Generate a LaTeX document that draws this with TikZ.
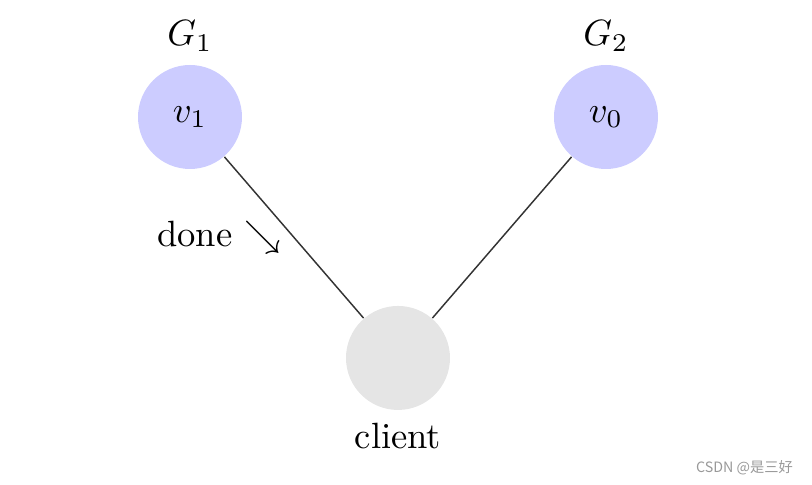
\documentclass[tikz,border=0pt]{standalone}
\usepackage{fontspec}
\newfontfamily\cjk{Noto Sans CJK SC}
\tikzset{
  vertex/.style={circle, fill=blue!20, minimum size=1cm, inner sep=0pt},
  host/.style={circle, fill=black!10, minimum size=1cm, inner sep=0pt},
  link/.style={draw=black!80, line width=0.4pt}
}

\begin{document}
\begin{tikzpicture}
	%%%%% START %%%%%
	\useasboundingbox (0, 0) rectangle (7.808, 4.663);
	
	\node[vertex, label=above:{$G_1$}] (g1) at (1.827, 3.538) {$v_1$};
	\node[vertex, label=above:{$G_2$}] (g2) at (5.827, 3.538) {$v_0$};
	\node[host, label=below:{client}] (client) at (3.827, 1.221) {};
	
	\draw[link] (g1) -- node[left] {done $\searrow$} (client);
	\draw[link] (g2) -- (client);
	
	\node[text=black!40, font=\cjk\fontsize{3.9}{4}\selectfont] (mark) at (7.16, 0.17) {CSDN @是三好};
	%%%%% END %%%%%
\end{tikzpicture}
\end{document}
